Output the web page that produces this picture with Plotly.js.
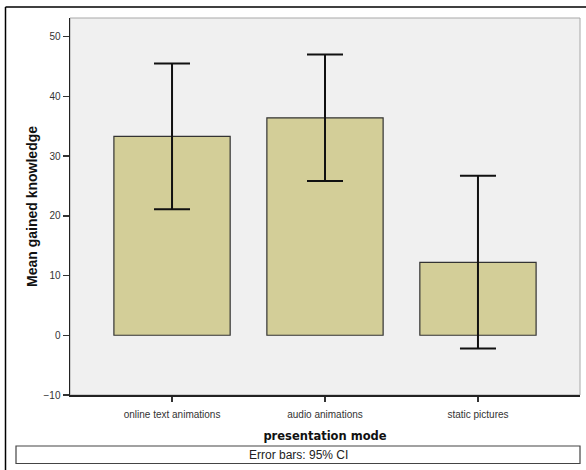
<!DOCTYPE html>
<html>
<head>
<meta charset="utf-8">
<script src="https://cdn.plot.ly/plotly-3.0.1.min.js"></script>
<style>
html,body{margin:0;padding:0;background:#fff;overflow:hidden;}
#chart{width:586px;height:470px;}
</style>
</head>
<body>
<div id="chart"></div>
<script>
const categories = ["online text animations", "audio animations", "static pictures"];
const means = [33.3, 36.4, 12.2];
const ciUpper = [45.5, 47.0, 26.7];
const ciLower = [21.1, 25.8, -2.2];
const yTicks = [-10, 0, 10, 20, 30, 40, 50];

const W = 586, H = 470;
const L = 70, R = 6, T = 18, B = 75;
const pw = W - L - R, ph = H - T - B;
function px(x){ return (x - L) / pw; }
function py(y){ return (H - B - y) / ph; }

const trace = {
  type: "bar",
  x: categories,
  y: means,
  width: 0.76,
  marker: {color: "#d3ce98", line: {color: "#333333", width: 1.2}},
  error_y: {
    type: "data",
    symmetric: false,
    array: ciUpper.map((u, i) => u - means[i]),
    arrayminus: means.map((m, i) => m - ciLower[i]),
    color: "#111111",
    thickness: 2,
    width: 18
  },
  hoverinfo: "none"
};

const layout = {
  width: W, height: H,
  margin: {l: L, r: R, t: T, b: B, pad: 0},
  paper_bgcolor: "#ffffff",
  plot_bgcolor: "#f0f0f0",
  showlegend: false,
  font: {family: "Liberation Sans, Arial, sans-serif", color: "#222"},
  xaxis: {
    range: [-0.667, 2.667],
    showline: true, linecolor: "#222", linewidth: 1.5,
    ticks: "outside", ticklen: 5, tickwidth: 1.5, tickcolor: "#333",
    ticklabelstandoff: 4,
    tickfont: {size: 10, color: "#333", family: "Liberation Sans, Arial, sans-serif"},
    showgrid: false, zeroline: false, fixedrange: true,
    title: {text: "presentation mode", standoff: 13,
            font: {size: 11.5, color: "#111", family: "DejaVu Sans, Verdana, sans-serif", weight: "bold"}}
  },
  yaxis: {
    range: [-10, 53.1],
    tickvals: yTicks,
    showline: true, linecolor: "#222", linewidth: 1.5,
    ticks: "outside", ticklen: 6, tickwidth: 1.5, tickcolor: "#333",
    tickfont: {size: 10, color: "#333", family: "Liberation Sans, Arial, sans-serif"},
    showgrid: false, zeroline: false, fixedrange: true,
    title: {text: "Mean gained knowledge", standoff: 2,
            font: {size: 14, color: "#111", family: "Liberation Sans, Arial, sans-serif", weight: "bold"}}
  },
  shapes: [
    {type: "rect", xref: "paper", yref: "paper", x0: 0, x1: 1, y0: 0, y1: 1,
     line: {color: "#a8a8a8", width: 1}, layer: "below"},
    {type: "line", xref: "paper", yref: "paper", x0: px(5.5), x1: px(586), y0: py(7), y1: py(7),
     line: {color: "#000", width: 1.5}},
    {type: "line", xref: "paper", yref: "paper", x0: px(5.5), x1: px(5.5), y0: py(7), y1: py(470),
     line: {color: "#000", width: 1.5}},
    {type: "rect", xref: "paper", yref: "paper", x0: px(16), x1: px(580), y0: py(446), y1: py(463.5),
     line: {color: "#444", width: 1.2}}
  ],
  annotations: [
    {xref: "paper", yref: "paper", x: px(298), y: py(455), text: "Error bars: 95% CI",
     showarrow: false, xanchor: "center", yanchor: "middle",
     font: {size: 12, color: "#222", family: "Liberation Sans, Arial, sans-serif"}}
  ]
};

Plotly.newPlot("chart", [trace], layout, {displayModeBar: false, staticPlot: true});
</script>
</body>
</html>
